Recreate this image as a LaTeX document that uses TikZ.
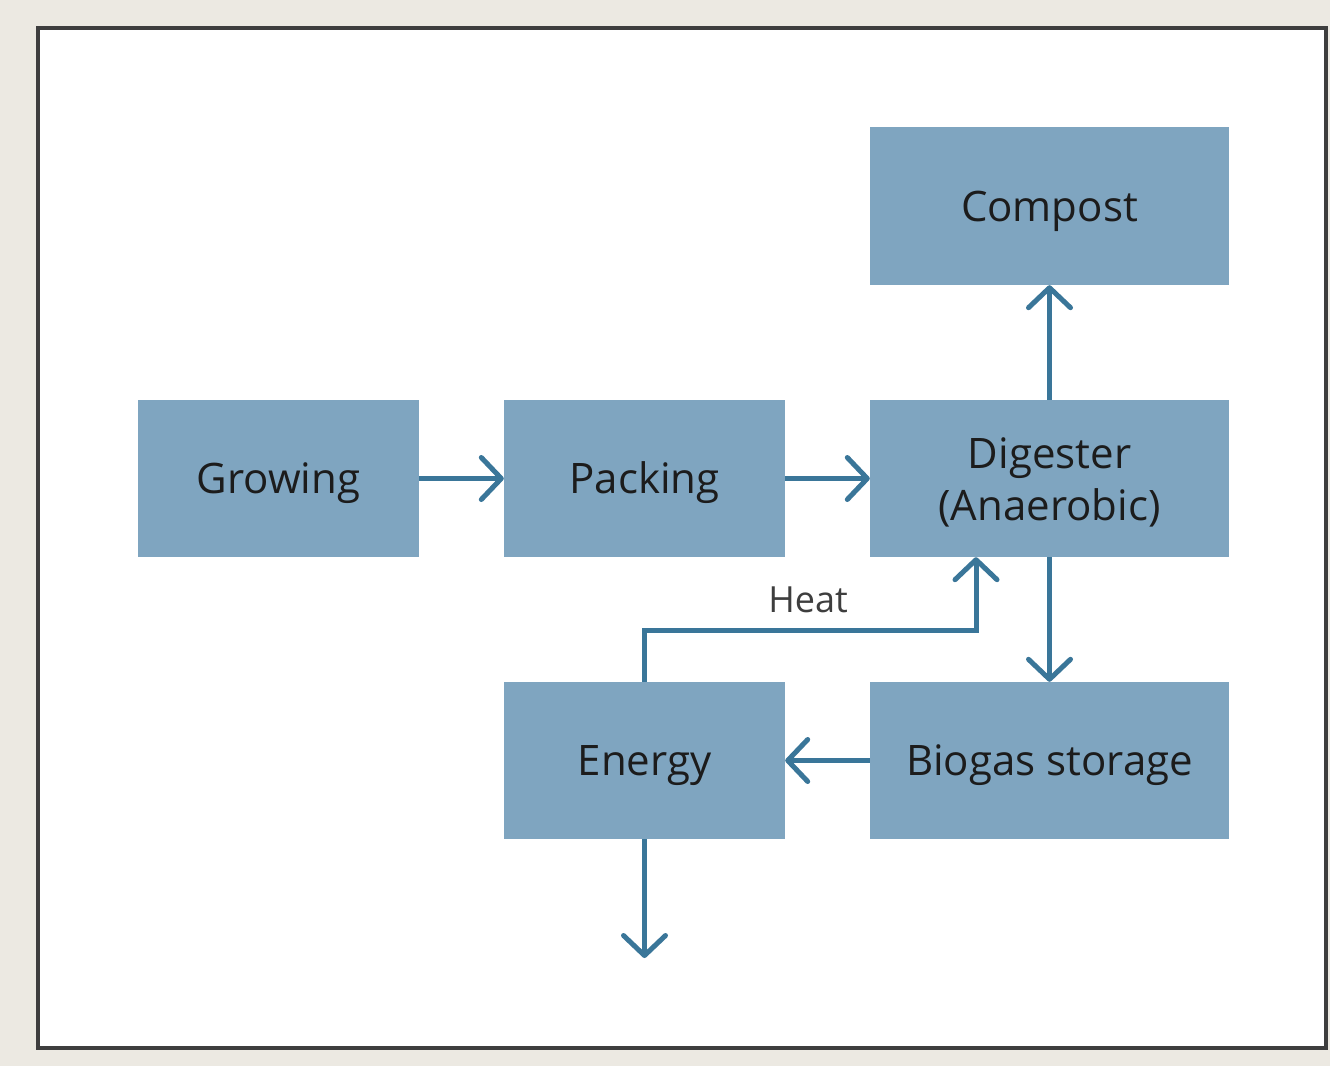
\documentclass[tikz,border=0pt]{standalone}
\usepackage{fontspec}
\setmainfont{Open Sans}
\usetikzlibrary{arrows.meta}
\definecolor{bgc}{HTML}{ECE9E2}
\definecolor{framec}{HTML}{3E3E3E}
\definecolor{boxc}{HTML}{7FA5C0}
\definecolor{arrc}{HTML}{3A7699}
\definecolor{txtc}{HTML}{1C1C1C}
\tikzset{
  box/.style={rectangle, fill=boxc, draw=none, inner sep=0pt, text=txtc, align=center,
    font=\fontsize{42}{52}\selectfont, text height=40pt, text depth=10pt},
  narrowbox/.style={box, minimum width=281pt, minimum height=157pt},
  widebox/.style={box, minimum width=359pt, minimum height=157pt},
  flow/.style={line width=5pt, draw=arrc, -{Straight Barb[length=20pt,width=42pt,round]}},
}
\begin{document}
\begin{tikzpicture}[x=1pt,y=-1pt]
\useasboundingbox (0,0) rectangle (1330,1066);
\fill[bgc] (0,0) rectangle (1330,1066);
\fill[white] (38,27.5) rectangle (1325.5,1047.5);
\draw[framec, line width=4pt] (38,27.5) rectangle (1325.5,1047.5);

\node[narrowbox] (growing) at (278.5,478.5) {Growing};
\node[narrowbox] (packing) at (644.5,478.5) {Packing};
\node[widebox, text height=66pt, text depth=42.8pt] (digester) at (1049.5,478.5)
  {\begin{tabular}{@{}c@{}}Digester\\(Anaerobic)\end{tabular}};
\node[widebox, minimum height=158pt] (compost) at (1049.5,206) {Compost};
\node[narrowbox] (energy) at (644.5,760.5) {Energy};
\node[widebox] (biogas) at (1049.5,760.5) {Biogas storage};

\coordinate (out) at (644.5,958);
\coordinate (heatcorner) at (976,630);

\draw[flow] (growing) -- (packing);
\draw[flow] (packing) -- (digester);
\draw[flow] (digester) -- (compost);
\draw[flow] (digester) -- (biogas);
\draw[flow] (biogas) -- (energy);
\draw[flow] (energy) -- (out);
\draw[flow] (energy.north) |- (heatcorner) -- (heatcorner |- digester.south);

\node[text=txtc!85!white, font=\fontsize{36}{40}\selectfont, anchor=base, inner sep=0pt] (heat) at (808,612) {Heat};
\end{tikzpicture}
\end{document}
